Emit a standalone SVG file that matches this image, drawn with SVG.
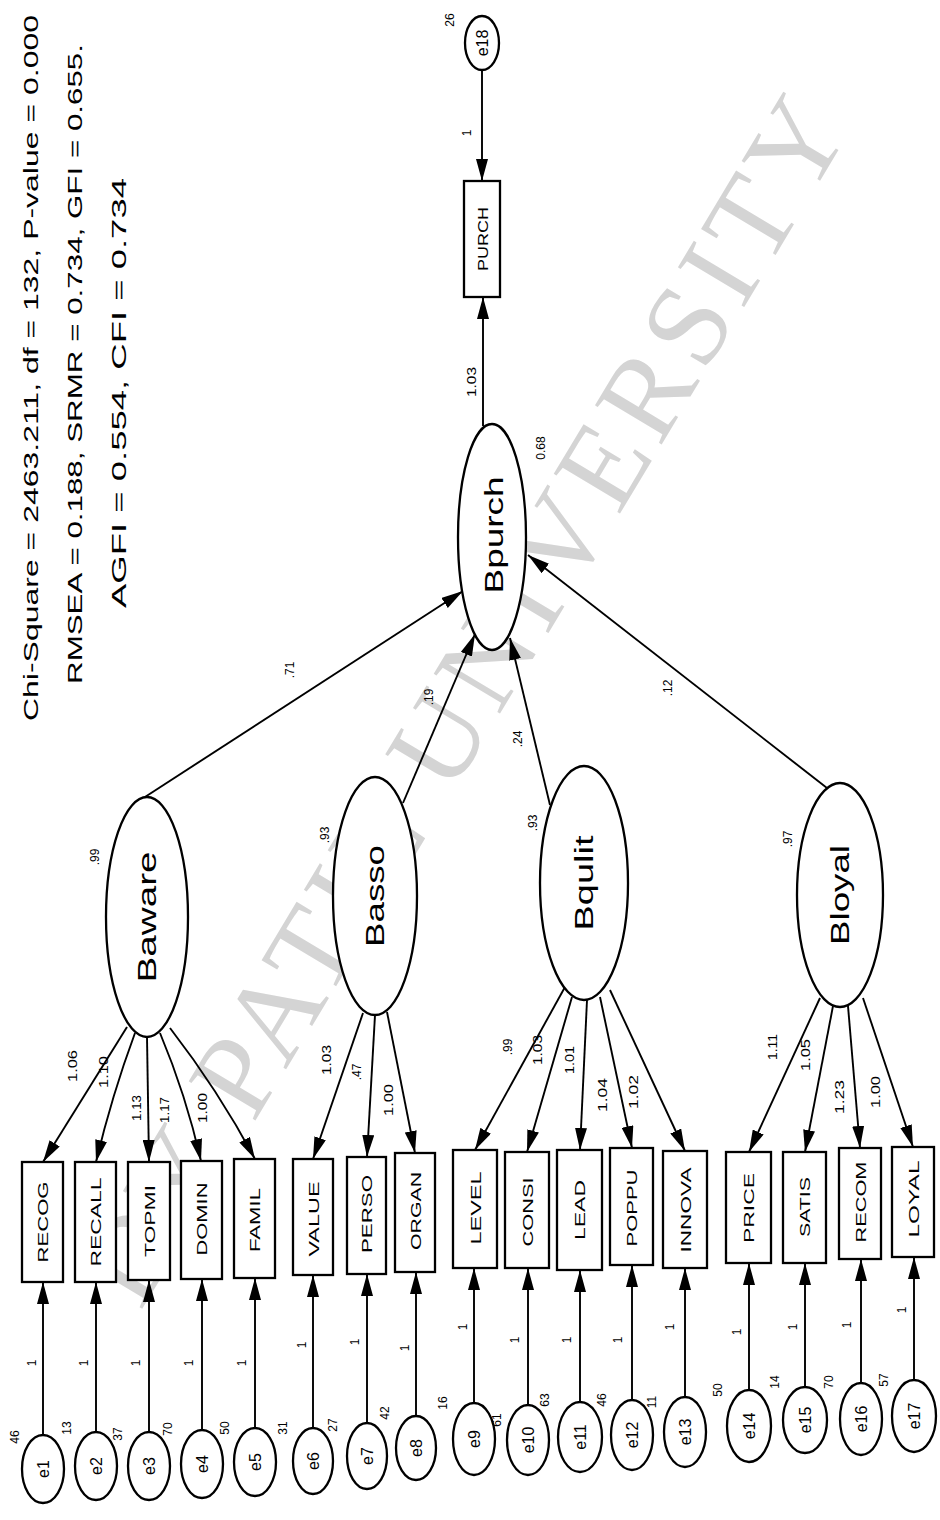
<svg xmlns="http://www.w3.org/2000/svg" width="940" height="1520" viewBox="0 0 940 1520">
<style>
.bg{fill:#fff}
.wm{font-family:"Liberation Serif","Times New Roman",serif;fill:#d4d4d4;font-size:118px}
.ln{stroke:#000;stroke-width:1.9;fill:none}
.nd{fill:#fff;stroke:#000;stroke-width:2.3}
.t{font-family:"Liberation Sans",Arial,sans-serif;fill:#000;text-anchor:middle;dominant-baseline:central}
.fit{font-size:21px}
.lat{font-size:25px}
.box{font-size:15px}
.err{font-size:16px}
.num{font-size:12px}
</style>
<defs>
<marker id="ah" viewBox="0 0 22 12" refX="22" refY="6" markerWidth="22" markerHeight="12" markerUnits="userSpaceOnUse" orient="auto">
<path d="M0,0 L22,6 L0,12 z" fill="#000"/>
</marker>
</defs>
<rect class="bg" x="0" y="0" width="940" height="1520"/>

<g id="watermark">
<text class="wm" text-anchor="middle" dominant-baseline="central" transform="translate(462 700) rotate(-59)" textLength="1380" lengthAdjust="spacing">DY PATIL UNIVERSITY</text>
</g>

<g id="fit-stats">
<text class="t fit" transform="translate(30 368) rotate(-90)" textLength="706" lengthAdjust="spacingAndGlyphs">Chi-Square = 2463.211, df = 132, P-value = 0.000</text>
<text class="t fit" transform="translate(74 364) rotate(-90)" textLength="640" lengthAdjust="spacingAndGlyphs">RMSEA = 0.188, SRMR = 0.734, GFI = 0.655.</text>
<text class="t fit" transform="translate(118 393) rotate(-90)" textLength="430" lengthAdjust="spacingAndGlyphs">AGFI = 0.554, CFI = 0.734</text>
</g>

<g id="connectors">
<line class="ln" x1="145" y1="797" x2="463" y2="591" marker-end="url(#ah)"/>
<line class="ln" x1="403" y1="803" x2="475" y2="634" marker-end="url(#ah)"/>
<line class="ln" x1="550" y1="805" x2="510" y2="638" marker-end="url(#ah)"/>
<line class="ln" x1="827" y1="788" x2="528" y2="555" marker-end="url(#ah)"/>
<line class="ln" x1="483" y1="426" x2="483" y2="297" marker-end="url(#ah)"/>
<line class="ln" x1="482" y1="70" x2="482" y2="181" marker-end="url(#ah)"/>
<path class="ln" d="M127,1027 Q88,1090 43,1162" marker-end="url(#ah)"/>
<path class="ln" d="M135,1033 Q112,1095 96,1162" marker-end="url(#ah)"/>
<line class="ln" x1="147" y1="1037" x2="149" y2="1162" marker-end="url(#ah)"/>
<path class="ln" d="M160,1033 Q186,1095 201,1161" marker-end="url(#ah)"/>
<path class="ln" d="M170,1028 Q218,1090 255,1159" marker-end="url(#ah)"/>
<line class="ln" x1="363" y1="1013" x2="313" y2="1159" marker-end="url(#ah)"/>
<line class="ln" x1="375" y1="1015" x2="367" y2="1157" marker-end="url(#ah)"/>
<line class="ln" x1="387" y1="1012" x2="415" y2="1153" marker-end="url(#ah)"/>
<line class="ln" x1="565" y1="987" x2="475" y2="1150" marker-end="url(#ah)"/>
<line class="ln" x1="572" y1="997" x2="527" y2="1152" marker-end="url(#ah)"/>
<line class="ln" x1="587" y1="1000" x2="580" y2="1150" marker-end="url(#ah)"/>
<line class="ln" x1="600" y1="997" x2="632" y2="1148" marker-end="url(#ah)"/>
<line class="ln" x1="610" y1="990" x2="685" y2="1151" marker-end="url(#ah)"/>
<line class="ln" x1="820" y1="998" x2="749" y2="1152" marker-end="url(#ah)"/>
<line class="ln" x1="833" y1="1006" x2="805" y2="1152" marker-end="url(#ah)"/>
<line class="ln" x1="848" y1="1006" x2="860" y2="1148" marker-end="url(#ah)"/>
<line class="ln" x1="863" y1="998" x2="913" y2="1147" marker-end="url(#ah)"/>
<line class="ln" x1="43" y1="1435" x2="43" y2="1282" marker-end="url(#ah)"/>
<line class="ln" x1="96" y1="1432" x2="96" y2="1282" marker-end="url(#ah)"/>
<line class="ln" x1="149" y1="1432" x2="149" y2="1280" marker-end="url(#ah)"/>
<line class="ln" x1="202" y1="1430" x2="202" y2="1279" marker-end="url(#ah)"/>
<line class="ln" x1="255" y1="1428" x2="255" y2="1278" marker-end="url(#ah)"/>
<line class="ln" x1="313" y1="1428" x2="313" y2="1275" marker-end="url(#ah)"/>
<line class="ln" x1="367" y1="1423" x2="367" y2="1274" marker-end="url(#ah)"/>
<line class="ln" x1="416" y1="1416" x2="416" y2="1272" marker-end="url(#ah)"/>
<line class="ln" x1="474" y1="1403" x2="474" y2="1268" marker-end="url(#ah)"/>
<line class="ln" x1="528" y1="1405" x2="528" y2="1268" marker-end="url(#ah)"/>
<line class="ln" x1="580" y1="1402" x2="580" y2="1270" marker-end="url(#ah)"/>
<line class="ln" x1="632" y1="1400" x2="632" y2="1265" marker-end="url(#ah)"/>
<line class="ln" x1="685" y1="1397" x2="685" y2="1268" marker-end="url(#ah)"/>
<line class="ln" x1="749" y1="1390" x2="749" y2="1263" marker-end="url(#ah)"/>
<line class="ln" x1="805" y1="1387" x2="805" y2="1263" marker-end="url(#ah)"/>
<line class="ln" x1="861" y1="1383" x2="861" y2="1259" marker-end="url(#ah)"/>
<line class="ln" x1="914" y1="1380" x2="914" y2="1257" marker-end="url(#ah)"/>
</g>

<g id="connector-labels">
<text class="t num" transform="translate(290 670) rotate(-90)">.71</text>
<text class="t num" transform="translate(429 697) rotate(-90)">.19</text>
<text class="t num" transform="translate(518 739) rotate(-90)">.24</text>
<text class="t num" transform="translate(668 688) rotate(-90)">.12</text>
<text class="t num" transform="translate(472 382) rotate(-90)" textLength="30" lengthAdjust="spacingAndGlyphs">1.03</text>
<text class="t num" transform="translate(467 133) rotate(-90)">1</text>
<text class="t num" transform="translate(73 1066) rotate(-90)" textLength="32" lengthAdjust="spacingAndGlyphs">1.06</text>
<text class="t num" transform="translate(104 1072) rotate(-90)" textLength="32" lengthAdjust="spacingAndGlyphs">1.10</text>
<text class="t num" transform="translate(137 1108) rotate(-90)" textLength="26" lengthAdjust="spacingAndGlyphs">1.13</text>
<text class="t num" transform="translate(165 1110) rotate(-90)" textLength="26" lengthAdjust="spacingAndGlyphs">1.17</text>
<text class="t num" transform="translate(203 1108) rotate(-90)" textLength="30" lengthAdjust="spacingAndGlyphs">1.00</text>
<text class="t num" transform="translate(327 1060) rotate(-90)" textLength="30" lengthAdjust="spacingAndGlyphs">1.03</text>
<text class="t num" transform="translate(357 1072) rotate(-90)">.47</text>
<text class="t num" transform="translate(389 1100) rotate(-90)" textLength="32" lengthAdjust="spacingAndGlyphs">1.00</text>
<text class="t num" transform="translate(508 1047) rotate(-90)">.99</text>
<text class="t num" transform="translate(538 1050) rotate(-90)" textLength="30" lengthAdjust="spacingAndGlyphs">1.03</text>
<text class="t num" transform="translate(570 1060) rotate(-90)" textLength="28" lengthAdjust="spacingAndGlyphs">1.01</text>
<text class="t num" transform="translate(603 1095) rotate(-90)" textLength="34" lengthAdjust="spacingAndGlyphs">1.04</text>
<text class="t num" transform="translate(634 1092) rotate(-90)" textLength="34" lengthAdjust="spacingAndGlyphs">1.02</text>
<text class="t num" transform="translate(773 1047) rotate(-90)" textLength="26" lengthAdjust="spacingAndGlyphs">1.11</text>
<text class="t num" transform="translate(806 1055) rotate(-90)" textLength="32" lengthAdjust="spacingAndGlyphs">1.05</text>
<text class="t num" transform="translate(840 1097) rotate(-90)" textLength="34" lengthAdjust="spacingAndGlyphs">1.23</text>
<text class="t num" transform="translate(876 1092) rotate(-90)" textLength="32" lengthAdjust="spacingAndGlyphs">1.00</text>
<text class="t num" transform="translate(32 1363) rotate(-90)">1</text>
<text class="t num" transform="translate(84 1363) rotate(-90)">1</text>
<text class="t num" transform="translate(136 1363) rotate(-90)">1</text>
<text class="t num" transform="translate(189 1363) rotate(-90)">1</text>
<text class="t num" transform="translate(242 1363) rotate(-90)">1</text>
<text class="t num" transform="translate(302 1345) rotate(-90)">1</text>
<text class="t num" transform="translate(355 1342) rotate(-90)">1</text>
<text class="t num" transform="translate(405 1348) rotate(-90)">1</text>
<text class="t num" transform="translate(463 1327) rotate(-90)">1</text>
<text class="t num" transform="translate(515 1340) rotate(-90)">1</text>
<text class="t num" transform="translate(567 1340) rotate(-90)">1</text>
<text class="t num" transform="translate(618 1340) rotate(-90)">1</text>
<text class="t num" transform="translate(670 1327) rotate(-90)">1</text>
<text class="t num" transform="translate(737 1332) rotate(-90)">1</text>
<text class="t num" transform="translate(793 1327) rotate(-90)">1</text>
<text class="t num" transform="translate(847 1325) rotate(-90)">1</text>
<text class="t num" transform="translate(902 1310) rotate(-90)">1</text>
</g>

<g id="PURCH"><rect class="nd" x="464" y="181" width="36" height="116"/><text class="t box" transform="translate(482 239) rotate(-90)" textLength="64" lengthAdjust="spacingAndGlyphs">PURCH</text></g>
<g id="e18"><ellipse class="nd" cx="482" cy="43" rx="17" ry="27"/><text class="t err" transform="translate(482 43) rotate(-90)">e18</text><text class="t num" transform="translate(450 20) rotate(-90)">26</text></g>

<g id="Bpurch"><ellipse class="nd" cx="492" cy="537" rx="34" ry="113"/><text class="t lat" transform="translate(494 535) rotate(-90)" textLength="117" lengthAdjust="spacingAndGlyphs">Bpurch</text><text class="t num" transform="translate(541 448) rotate(-90)">0.68</text></g>
<g id="Baware"><ellipse class="nd" cx="147" cy="917" rx="41" ry="120"/><text class="t lat" transform="translate(147 917) rotate(-90)" textLength="131" lengthAdjust="spacingAndGlyphs">Baware</text><text class="t num" transform="translate(95 857) rotate(-90)">.99</text></g>
<g id="Basso"><ellipse class="nd" cx="375" cy="896" rx="42" ry="119"/><text class="t lat" transform="translate(375 896) rotate(-90)" textLength="102" lengthAdjust="spacingAndGlyphs">Basso</text><text class="t num" transform="translate(325 835) rotate(-90)">.93</text></g>
<g id="Bqulit"><ellipse class="nd" cx="584" cy="883" rx="44" ry="117"/><text class="t lat" transform="translate(584 883) rotate(-90)" textLength="95" lengthAdjust="spacingAndGlyphs">Bqulit</text><text class="t num" transform="translate(533 823) rotate(-90)">.93</text></g>
<g id="Bloyal"><ellipse class="nd" cx="840" cy="895" rx="43" ry="112"/><text class="t lat" transform="translate(840 895) rotate(-90)" textLength="100" lengthAdjust="spacingAndGlyphs">Bloyal</text><text class="t num" transform="translate(788 839) rotate(-90)">.97</text></g>

<g id="RECOG"><rect class="nd" x="22" y="1162" width="41" height="120"/><text class="t box" transform="translate(42.5 1222) rotate(-90)" textLength="81" lengthAdjust="spacingAndGlyphs">RECOG</text></g>
<g id="RECALL"><rect class="nd" x="75" y="1162" width="41" height="120"/><text class="t box" transform="translate(95.5 1222) rotate(-90)" textLength="89" lengthAdjust="spacingAndGlyphs">RECALL</text></g>
<g id="TOPMI"><rect class="nd" x="128" y="1162" width="42" height="118"/><text class="t box" transform="translate(149 1221) rotate(-90)" textLength="72" lengthAdjust="spacingAndGlyphs">TOPMI</text></g>
<g id="DOMIN"><rect class="nd" x="181" y="1161" width="41" height="118"/><text class="t box" transform="translate(201.5 1219) rotate(-90)" textLength="73" lengthAdjust="spacingAndGlyphs">DOMIN</text></g>
<g id="FAMIL"><rect class="nd" x="234" y="1159" width="41" height="119"/><text class="t box" transform="translate(254.5 1220) rotate(-90)" textLength="64" lengthAdjust="spacingAndGlyphs">FAMIL</text></g>
<g id="VALUE"><rect class="nd" x="293" y="1159" width="40" height="116"/><text class="t box" transform="translate(313 1219) rotate(-90)" textLength="75" lengthAdjust="spacingAndGlyphs">VALUE</text></g>
<g id="PERSO"><rect class="nd" x="347" y="1157" width="39" height="117"/><text class="t box" transform="translate(366.5 1214) rotate(-90)" textLength="78" lengthAdjust="spacingAndGlyphs">PERSO</text></g>
<g id="ORGAN"><rect class="nd" x="395" y="1153" width="40" height="119"/><text class="t box" transform="translate(415 1211) rotate(-90)" textLength="78" lengthAdjust="spacingAndGlyphs">ORGAN</text></g>
<g id="LEVEL"><rect class="nd" x="453" y="1150" width="44" height="118"/><text class="t box" transform="translate(475 1208) rotate(-90)" textLength="73" lengthAdjust="spacingAndGlyphs">LEVEL</text></g>
<g id="CONSI"><rect class="nd" x="505" y="1152" width="44" height="116"/><text class="t box" transform="translate(527 1212) rotate(-90)" textLength="69" lengthAdjust="spacingAndGlyphs">CONSI</text></g>
<g id="LEAD"><rect class="nd" x="557" y="1150" width="45" height="120"/><text class="t box" transform="translate(579.5 1210) rotate(-90)" textLength="60" lengthAdjust="spacingAndGlyphs">LEAD</text></g>
<g id="POPPU"><rect class="nd" x="610" y="1148" width="43" height="117"/><text class="t box" transform="translate(631.5 1208) rotate(-90)" textLength="77" lengthAdjust="spacingAndGlyphs">POPPU</text></g>
<g id="INNOVA"><rect class="nd" x="663" y="1151" width="44" height="117"/><text class="t box" transform="translate(685 1210) rotate(-90)" textLength="85" lengthAdjust="spacingAndGlyphs">INNOVA</text></g>
<g id="PRICE"><rect class="nd" x="726" y="1152" width="45" height="111"/><text class="t box" transform="translate(748.5 1208) rotate(-90)" textLength="70" lengthAdjust="spacingAndGlyphs">PRICE</text></g>
<g id="SATIS"><rect class="nd" x="783" y="1152" width="43" height="111"/><text class="t box" transform="translate(804.5 1207) rotate(-90)" textLength="60" lengthAdjust="spacingAndGlyphs">SATIS</text></g>
<g id="RECOM"><rect class="nd" x="839" y="1148" width="42" height="111"/><text class="t box" transform="translate(860 1202) rotate(-90)" textLength="81" lengthAdjust="spacingAndGlyphs">RECOM</text></g>
<g id="LOYAL"><rect class="nd" x="892" y="1147" width="42" height="110"/><text class="t box" transform="translate(913 1199) rotate(-90)" textLength="77" lengthAdjust="spacingAndGlyphs">LOYAL</text></g>

<g id="e1"><ellipse class="nd" cx="43" cy="1469" rx="21" ry="34"/><text class="t err" transform="translate(43 1469) rotate(-90)">e1</text><text class="t num" transform="translate(15 1437) rotate(-90)">46</text></g>
<g id="e2"><ellipse class="nd" cx="96" cy="1466" rx="21" ry="34"/><text class="t err" transform="translate(96 1466) rotate(-90)">e2</text><text class="t num" transform="translate(67 1428) rotate(-90)">13</text></g>
<g id="e3"><ellipse class="nd" cx="149" cy="1466" rx="21" ry="34"/><text class="t err" transform="translate(149 1466) rotate(-90)">e3</text><text class="t num" transform="translate(118 1434) rotate(-90)">37</text></g>
<g id="e4"><ellipse class="nd" cx="202" cy="1464" rx="21" ry="34"/><text class="t err" transform="translate(202 1464) rotate(-90)">e4</text><text class="t num" transform="translate(168 1429) rotate(-90)">70</text></g>
<g id="e5"><ellipse class="nd" cx="255" cy="1462" rx="21" ry="34"/><text class="t err" transform="translate(255 1462) rotate(-90)">e5</text><text class="t num" transform="translate(225 1428) rotate(-90)">50</text></g>
<g id="e6"><ellipse class="nd" cx="313" cy="1461" rx="20" ry="33"/><text class="t err" transform="translate(313 1461) rotate(-90)">e6</text><text class="t num" transform="translate(283 1428) rotate(-90)">31</text></g>
<g id="e7"><ellipse class="nd" cx="367" cy="1456" rx="20" ry="33"/><text class="t err" transform="translate(367 1456) rotate(-90)">e7</text><text class="t num" transform="translate(333 1425) rotate(-90)">27</text></g>
<g id="e8"><ellipse class="nd" cx="416" cy="1448" rx="20" ry="32"/><text class="t err" transform="translate(416 1448) rotate(-90)">e8</text><text class="t num" transform="translate(385 1413) rotate(-90)">42</text></g>
<g id="e9"><ellipse class="nd" cx="474" cy="1439" rx="21" ry="36"/><text class="t err" transform="translate(474 1439) rotate(-90)">e9</text><text class="t num" transform="translate(443 1403) rotate(-90)">16</text></g>
<g id="e10"><ellipse class="nd" cx="528" cy="1440" rx="21" ry="35"/><text class="t err" transform="translate(528 1440) rotate(-90)">e10</text><text class="t num" transform="translate(497 1420) rotate(-90)">61</text></g>
<g id="e11"><ellipse class="nd" cx="580" cy="1437" rx="22" ry="35"/><text class="t err" transform="translate(580 1437) rotate(-90)">e11</text><text class="t num" transform="translate(545 1400) rotate(-90)">63</text></g>
<g id="e12"><ellipse class="nd" cx="632" cy="1435" rx="21" ry="35"/><text class="t err" transform="translate(632 1435) rotate(-90)">e12</text><text class="t num" transform="translate(602 1400) rotate(-90)">46</text></g>
<g id="e13"><ellipse class="nd" cx="685" cy="1432" rx="21" ry="35"/><text class="t err" transform="translate(685 1432) rotate(-90)">e13</text><text class="t num" transform="translate(652 1402) rotate(-90)">11</text></g>
<g id="e14"><ellipse class="nd" cx="749" cy="1426" rx="22" ry="36"/><text class="t err" transform="translate(749 1426) rotate(-90)">e14</text><text class="t num" transform="translate(718 1390) rotate(-90)">50</text></g>
<g id="e15"><ellipse class="nd" cx="805" cy="1420" rx="22" ry="33"/><text class="t err" transform="translate(805 1420) rotate(-90)">e15</text><text class="t num" transform="translate(775 1382) rotate(-90)">14</text></g>
<g id="e16"><ellipse class="nd" cx="861" cy="1419" rx="21" ry="36"/><text class="t err" transform="translate(861 1419) rotate(-90)">e16</text><text class="t num" transform="translate(829 1382) rotate(-90)">70</text></g>
<g id="e17"><ellipse class="nd" cx="914" cy="1416" rx="22" ry="36"/><text class="t err" transform="translate(914 1416) rotate(-90)">e17</text><text class="t num" transform="translate(884 1380) rotate(-90)">57</text></g>
</svg>
